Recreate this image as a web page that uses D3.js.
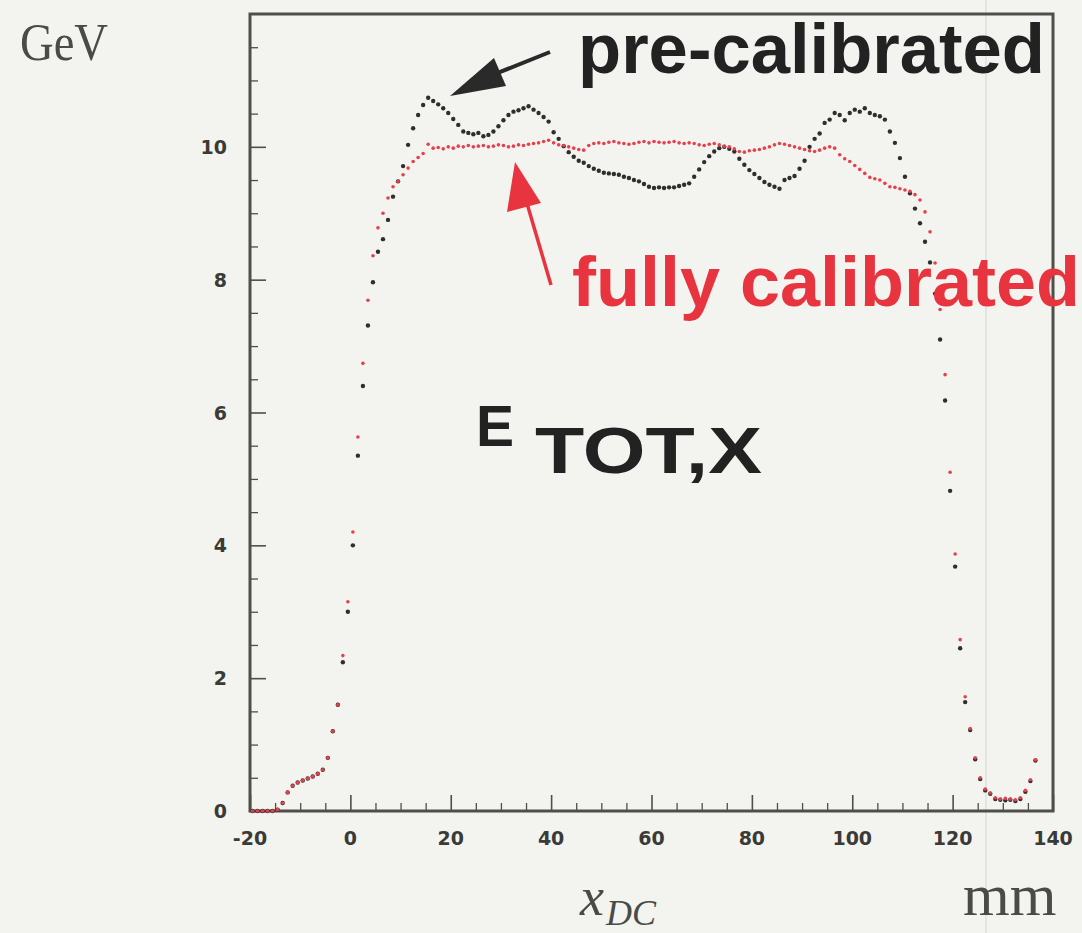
<!DOCTYPE html>
<html>
<head>
<meta charset="utf-8">
<script src="https://cdn.jsdelivr.net/npm/d3@7"></script>
<style>
  html, body { margin: 0; padding: 0; background: #f3f4f0; }
  svg { display: block; }
</style>
</head>
<body>
<svg id="chart" width="1082" height="933"></svg>
<script>
// Total energy E_TOT,X versus drift-chamber position, 1 mm bins (bin centres in mm)
const binCentres = d3.range(-19.5, 137, 1);

// fully calibrated response (GeV)
const fullyCalibrated = [
  0, 0, 0, 0, 0, 0.02,                                    // -19.5 .. -14.5
  0.12, 0.28, 0.38, 0.43, 0.46, 0.49, 0.52, 0.56, 0.62,   // -13.5 .. -5.5
  0.80, 1.20, 1.60, 2.34, 3.15, 4.20, 5.63, 6.74, 7.69,   // -4.5 .. 3.5
  8.36, 8.78, 9.00, 9.23, 9.40, 9.48, 9.58, 9.68, 9.78, 9.84, 9.90, // 4.5 .. 14.5
  10.04, 9.98, 9.99, 9.97, 10.00, 9.98, 10.01, 10.00, 10.02, 10.00, // 15.5 .. 24.5
  10.01, 10.02, 10.00, 10.01, 10.03, 10.02, 10.00, 10.01, 10.03, 10.02, // 25.5 .. 34.5
  10.04, 10.05, 10.06, 10.08, 10.10, 10.06, 10.03, 10.02, 10.00, 9.98, // 35.5 .. 44.5
  9.96, 9.95, 10.02, 10.05, 10.06, 10.05, 10.07, 10.08, 10.06, 10.05, // 45.5 .. 54.5
  10.04, 10.05, 10.07, 10.08, 10.06, 10.08, 10.07, 10.06, 10.07, 10.08, // 55.5 .. 64.5
  10.06, 10.05, 10.06, 10.05, 10.03, 10.02, 10.04, 10.05, 10.03, 10.01, // 65.5 .. 74.5
  10.00, 9.97, 9.93, 9.92, 9.94, 9.95, 9.96, 9.98, 10.00, 10.03,        // 75.5 .. 84.5
  10.05, 10.04, 10.02, 10.00, 9.98, 9.96, 9.94, 9.93, 9.95, 9.98,       // 85.5 .. 94.5
  10.00, 9.98, 9.88, 9.82, 9.78, 9.72, 9.66, 9.60, 9.54, 9.52,          // 95.5 .. 104.5
  9.50, 9.45, 9.40, 9.39, 9.37, 9.35, 9.33, 9.28, 9.20, 9.02,           // 105.5 .. 114.5
  8.72, 8.25, 7.55, 6.57, 5.10, 3.87, 2.58, 1.72, 1.24, 0.80,           // 115.5 .. 124.5
  0.50, 0.33, 0.27, 0.20, 0.18, 0.19, 0.18, 0.17, 0.20, 0.31,           // 125.5 .. 134.5
  0.47, 0.77                                                            // 135.5 .. 136.5
];

// pre-calibrated response (GeV)
const preCalibrated = [
  0, 0, 0, 0, 0, 0.02,
  0.12, 0.28, 0.38, 0.43, 0.46, 0.49, 0.52, 0.56, 0.62,
  0.80, 1.20, 1.60, 2.24, 3.00, 4.00, 5.35, 6.40, 7.31,
  7.96, 8.42, 8.61, 8.90, 9.25, 9.48, 9.71, 10.03, 10.28, 10.48, 10.63,  // 4.5 .. 14.5
  10.74, 10.69, 10.64, 10.58, 10.51, 10.42, 10.33, 10.23, 10.21, 10.19,  // 15.5 .. 24.5
  10.21, 10.16, 10.18, 10.23, 10.31, 10.40, 10.48, 10.53, 10.55, 10.58,  // 25.5 .. 34.5
  10.61, 10.56, 10.51, 10.45, 10.38, 10.22, 10.12, 10.01, 9.92, 9.85,    // 35.5 .. 44.5
  9.79, 9.76, 9.71, 9.67, 9.64, 9.61, 9.60, 9.59, 9.58, 9.55,            // 45.5 .. 54.5
  9.53, 9.50, 9.48, 9.44, 9.40, 9.38, 9.39, 9.38, 9.39, 9.39,            // 55.5 .. 64.5
  9.41, 9.43, 9.45, 9.55, 9.66, 9.77, 9.86, 9.93, 9.98, 10.00,           // 65.5 .. 74.5
  9.97, 9.93, 9.82, 9.73, 9.65, 9.59, 9.53, 9.47, 9.43, 9.40,            // 75.5 .. 84.5
  9.37, 9.50, 9.53, 9.56, 9.67, 9.79, 10.00, 10.12, 10.20, 10.36,        // 85.5 .. 94.5
  10.41, 10.51, 10.48, 10.40, 10.51, 10.56, 10.53, 10.58, 10.51, 10.48,  // 95.5 .. 104.5
  10.46, 10.41, 10.23, 10.06, 9.83, 9.55, 9.30, 9.07, 8.85, 8.57,        // 105.5 .. 114.5
  8.26, 7.79, 7.10, 6.18, 4.82, 3.68, 2.45, 1.64, 1.22, 0.78,            // 115.5 .. 124.5
  0.48, 0.31, 0.26, 0.18, 0.17, 0.16, 0.17, 0.15, 0.18, 0.29,            // 125.5 .. 134.5
  0.45, 0.76
];

const xTickValues = [-20, 0, 20, 40, 60, 80, 100, 120, 140];
const yTickValues = [0, 2, 4, 6, 8, 10];

const svg = d3.select("#chart");
const W = 1082, H = 933;
const frame = { left: 250, right: 1053, top: 14, bottom: 811 };

const x = d3.scaleLinear().domain([-20, 140]).range([frame.left, frame.right]);
const y = d3.scaleLinear().domain([0, 12]).range([frame.bottom, frame.top]);

const labelFont = "DejaVu Sans, Verdana, sans-serif";
const axisColor = "#4e4e4b";

// faint scanner streak
svg.append("line")
  .attr("x1", 986).attr("x2", 986).attr("y1", 0).attr("y2", H)
  .attr("stroke", "#e3e5e1").attr("stroke-width", 2);

// frame
svg.append("rect")
  .attr("x", frame.left).attr("y", frame.top)
  .attr("width", frame.right - frame.left).attr("height", frame.bottom - frame.top)
  .attr("fill", "none").attr("stroke", axisColor).attr("stroke-width", 3);

// y axis: ticks inside the frame
const yAxis = d3.axisRight(y).tickValues(yTickValues).tickSize(16).tickFormat("");
svg.append("g").attr("transform", `translate(${frame.left},0)`).call(yAxis)
  .call(g => g.select(".domain").remove())
  .call(g => g.selectAll("line").attr("stroke", axisColor).attr("stroke-width", 1.6));
const yMinor = d3.axisRight(y).tickValues(d3.range(0, 12.01, 0.5).filter(v => v % 2 !== 0)).tickSize(8).tickFormat("");
svg.append("g").attr("transform", `translate(${frame.left},0)`).call(yMinor)
  .call(g => g.select(".domain").remove())
  .call(g => g.selectAll("line").attr("stroke", axisColor).attr("stroke-width", 1.3));

// y tick labels
svg.append("g").selectAll("text").data(yTickValues).join("text")
  .attr("x", 227).attr("y", d => y(d) + 7)
  .attr("text-anchor", "end")
  .attr("font-family", labelFont)
  .attr("font-weight", "bold").attr("font-size", 19).attr("fill", "#3a3a38")
  .text(d => d);

// x axis: ticks inside the frame
const xAxis = d3.axisTop(x).tickValues(xTickValues).tickSize(16).tickFormat("");
svg.append("g").attr("transform", `translate(0,${frame.bottom})`).call(xAxis)
  .call(g => g.select(".domain").remove())
  .call(g => g.selectAll("line").attr("stroke", axisColor).attr("stroke-width", 1.6));
const xMinor = d3.axisTop(x).tickValues(d3.range(-20, 140.1, 5).filter(v => v % 20 !== 0)).tickSize(8).tickFormat("");
svg.append("g").attr("transform", `translate(0,${frame.bottom})`).call(xMinor)
  .call(g => g.select(".domain").remove())
  .call(g => g.selectAll("line").attr("stroke", axisColor).attr("stroke-width", 1.3));

// x tick labels
svg.append("g").selectAll("text").data(xTickValues).join("text")
  .attr("x", d => x(d)).attr("y", 845)
  .attr("text-anchor", "middle")
  .attr("font-family", labelFont)
  .attr("font-weight", "bold").attr("font-size", 19).attr("fill", "#3a3a38")
  .text(d => d);

// data points
const pre = binCentres.map((c, i) => ({ c, v: preCalibrated[i] }));
const full = binCentres.map((c, i) => ({ c, v: fullyCalibrated[i] }));

svg.append("g").selectAll("circle").data(pre).join("circle")
  .attr("cx", d => x(d.c)).attr("cy", d => y(d.v)).attr("r", 2.2)
  .attr("fill", "#2e2e2e");

svg.append("g").selectAll("circle").data(full).join("circle")
  .attr("cx", d => x(d.c)).attr("cy", d => y(d.v)).attr("r", 1.8)
  .attr("fill", "#e8404a");

// black arrow
svg.append("line").attr("x1", 550).attr("y1", 52).attr("x2", 480).attr("y2", 80)
  .attr("stroke", "#2a2a2a").attr("stroke-width", 4);
svg.append("path")
  .attr("d", "M450,96 L494,58 L506,86 Z").attr("fill", "#2a2a2a");

// red arrow
svg.append("line").attr("x1", 551).attr("y1", 285).attr("x2", 526).attr("y2", 200)
  .attr("stroke", "#e8343f").attr("stroke-width", 3.5);
svg.append("path")
  .attr("d", "M515,162 L507,212 L541,203 Z").attr("fill", "#e8343f");

// annotations
svg.append("text").attr("x", 578).attr("y", 73)
  .attr("font-family", "Liberation Sans, Arial, sans-serif").attr("font-weight", "bold")
  .attr("font-size", 70).attr("fill", "#222222")
  .attr("textLength", 467).attr("lengthAdjust", "spacingAndGlyphs")
  .text("pre-calibrated");

svg.append("text").attr("x", 572).attr("y", 306)
  .attr("font-family", "Liberation Sans, Arial, sans-serif").attr("font-weight", "bold")
  .attr("font-size", 70).attr("fill", "#e8343f")
  .attr("textLength", 508).attr("lengthAdjust", "spacingAndGlyphs")
  .text("fully calibrated");

svg.append("text").attr("x", 476).attr("y", 446)
  .attr("font-family", "Liberation Sans, Arial, sans-serif").attr("font-weight", "bold")
  .attr("font-size", 57).attr("fill", "#222222")
  .text("E");
svg.append("text").attr("x", 535).attr("y", 473)
  .attr("font-family", "Liberation Sans, Arial, sans-serif").attr("font-weight", "bold")
  .attr("font-size", 64).attr("fill", "#222222")
  .attr("textLength", 227).attr("lengthAdjust", "spacingAndGlyphs")
  .text("TOT,X");

// axis unit labels
svg.append("text").attr("x", 20).attr("y", 60)
  .attr("font-family", "Liberation Serif, Times New Roman, serif")
  .attr("font-size", 52).attr("fill", "#4a4a48")
  .attr("textLength", 88).attr("lengthAdjust", "spacingAndGlyphs")
  .text("GeV");

const xl = svg.append("text").attr("x", 580).attr("y", 915)
  .attr("font-family", "Liberation Serif, Times New Roman, serif")
  .attr("font-style", "italic").attr("fill", "#4a4a48");
xl.append("tspan").attr("font-size", 54).text("x");
xl.append("tspan").attr("font-size", 36).attr("dy", 10).attr("dx", 2).text("DC");

svg.append("text").attr("x", 963).attr("y", 915)
  .attr("font-family", "Liberation Serif, Times New Roman, serif")
  .attr("font-size", 60).attr("fill", "#4a4a48")
  .text("mm");
</script>
</body>
</html>
